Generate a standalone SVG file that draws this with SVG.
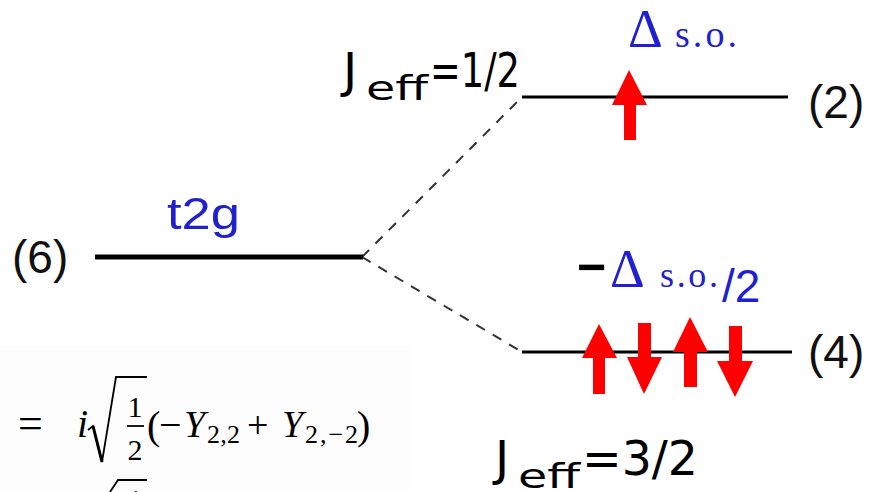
<svg xmlns="http://www.w3.org/2000/svg" width="871" height="492" viewBox="0 0 871 492">
  <style>
    .lvl { stroke: #000; fill: none; }
    .deg { font-family: "Liberation Sans", Arial, sans-serif; font-size: 46px; fill: #111; }
    .blue { fill: #2020d0; }
    .jeff { font-family: "Comic Sans MS", "DejaVu Sans", sans-serif; fill: #000; }
    .math { font-family: "Liberation Serif", "Times New Roman", serif; fill: #000; }
    .spin { fill: #ff0000; }
    .dash { stroke: #333; stroke-width: 2; stroke-dasharray: 10 9; fill: none; }
  </style>
  <rect x="0" y="0" width="871" height="492" fill="#ffffff"/>
  <rect x="0" y="345" width="412" height="147" fill="#fdfdfd"/>

  <g id="connectors">
    <line class="dash" x1="362" y1="257" x2="522" y2="97"/>
    <line class="dash" x1="362" y1="257" x2="522" y2="352"/>
  </g>

  <g id="t2g">
    <line class="lvl" x1="95" y1="257" x2="363" y2="257" stroke-width="5"/>
    <text class="deg" x="12" y="273">(6)</text>
    <text class="blue" x="167" y="229" font-family="Liberation Sans, Arial, sans-serif" font-size="45" textLength="73" lengthAdjust="spacingAndGlyphs">t2g</text>
  </g>

  <g id="jeff12">
    <line class="lvl" x1="522" y1="97" x2="788" y2="97" stroke-width="3"/>
    <text class="deg" x="808" y="118">(2)</text>
    <text class="jeff" x="343" y="87" font-size="48">J</text>
    <text class="jeff" x="366" y="100" font-size="34" textLength="62" lengthAdjust="spacingAndGlyphs">eff</text>
    <text class="jeff" x="430" y="87" font-size="48" textLength="90" lengthAdjust="spacingAndGlyphs">=1/2</text>
    <text class="blue" x="628" y="47" font-family="Liberation Serif, Times New Roman, serif" font-size="54">Δ</text>
    <text class="blue" x="675" y="47" font-family="Liberation Serif, Times New Roman, serif" font-size="38" textLength="62" lengthAdjust="spacing">s.o.</text>
  </g>

  <g id="jeff32">
    <line class="lvl" x1="522" y1="352" x2="792" y2="352" stroke-width="3"/>
    <text class="deg" x="808" y="368">(4)</text>
    <text class="jeff" x="495" y="475" font-size="48">J</text>
    <text class="jeff" x="518" y="488" font-size="34" textLength="62" lengthAdjust="spacingAndGlyphs">eff</text>
    <text class="jeff" x="582" y="475" font-size="48" textLength="116" lengthAdjust="spacingAndGlyphs">=3/2</text>
    <text x="577" y="284" font-family="Liberation Sans, Arial, sans-serif" font-size="50" font-weight="bold" fill="#000">−</text>
    <text class="blue" x="610" y="287" font-family="Liberation Serif, Times New Roman, serif" font-size="54">Δ</text>
    <text class="blue" x="660" y="287" font-family="Liberation Serif, Times New Roman, serif" font-size="36" textLength="58" lengthAdjust="spacing">s.o.</text>
    <text class="blue" x="722" y="302" font-family="Liberation Sans, Arial, sans-serif" font-size="46">/2</text>
  </g>

  <g id="spins">
    <polygon class="spin" points="629,70 647,105 636,105 636,140 624,140 624,105 612,105"/>
    <polygon class="spin" points="599,324 617,358 605,358 605,394 593,394 593,358 582,358"/>
    <polygon class="spin" points="638,323 651,323 651,357 662,357 644,394 627,357 638,357"/>
    <polygon class="spin" points="690,317 708,352 697,352 697,387 684,387 684,352 673,352"/>
    <polygon class="spin" points="729,326 742,326 742,361 753,361 735,397 717,361 729,361"/>
  </g>

  <g id="equation">
    <text class="math" x="18" y="438" font-size="44">=</text>
    <text class="math" x="77" y="437" font-size="40" font-style="italic">i</text>
    <path d="M88,430 L93,426 L102,462 L116,377 L147,377" fill="none" stroke="#000" stroke-width="1.8" stroke-linejoin="miter"/>
    <path d="M93,426 L102,462" stroke="#000" stroke-width="3" fill="none"/>
    <text class="math" x="135" y="417" font-size="30" text-anchor="middle">1</text>
    <line x1="127" y1="426" x2="144" y2="426" stroke="#000" stroke-width="1.8"/>
    <text class="math" x="135" y="460" font-size="30" text-anchor="middle">2</text>
    <text class="math" x="147" y="439" font-size="40">(</text>
    <text class="math" x="159" y="438" font-size="40">−</text>
    <text class="math" x="184" y="437" font-size="38" font-style="italic">Y</text>
    <text class="math" x="207" y="443" font-size="26" textLength="33" lengthAdjust="spacing">2,2</text>
    <text class="math" x="247" y="438" font-size="38">+</text>
    <text class="math" x="282" y="437" font-size="38" font-style="italic">Y</text>
    <text class="math" x="305" y="443" font-size="26" textLength="53" lengthAdjust="spacing">2,−2</text>
    <text class="math" x="357" y="439" font-size="40">)</text>
    <path d="M110,492 L118,480 L147,480" fill="none" stroke="#000" stroke-width="1.8"/>
    <text class="math" x="135" y="510" font-size="30" text-anchor="middle">1</text>
  </g>
</svg>
